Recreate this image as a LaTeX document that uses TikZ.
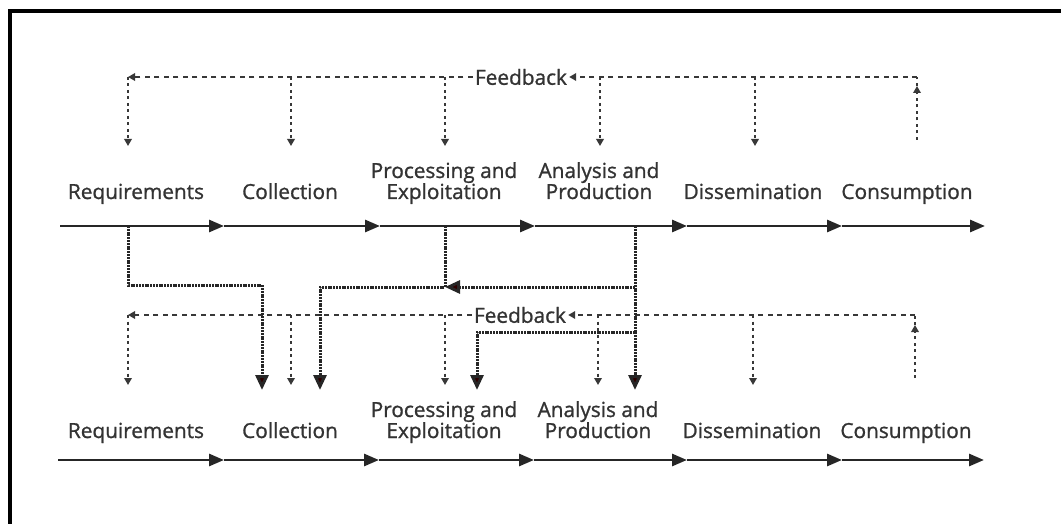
\documentclass[tikz,border=0pt]{standalone}
\usepackage{fontspec}
\setmainfont{Open Sans}
\newfontfamily\lblfont[FakeBold=1.1]{Open Sans}
\usetikzlibrary{arrows.meta}

\begin{document}
\begin{tikzpicture}[x=1pt,y=-1pt,
  lbl/.style={font=\lblfont\fontsize{20.8}{21}\selectfont, text=black!80, inner sep=0pt},
  lbl1/.style={lbl, anchor=base},
  lbl2/.style={lbl, anchor=base, align=center},
  flow/.style={line width=2.8pt, draw=black!85, -{Triangle[length=15pt,width=12pt]}},
  fb/.style={line width=2pt, draw=black!78, dash pattern=on 5pt off 4.5pt},
  fbv/.style={line width=2pt, draw=black!78, dash pattern=on 3pt off 3.5pt},
  fbtip/.style={-{Triangle[length=7pt,width=7.5pt]}},
  hand/.style={line width=3pt, draw=black!85, dash pattern=on 2pt off 0.8pt},
  handtip/.style={-{Triangle[length=15pt,width=13pt,fill=black!80!red!90!black]}}
]
\useasboundingbox (0,0) rectangle (1061,524);
\draw[line width=4pt] (10,524) -- (10,11.5) -- (1061,11.5);

% column positions
\coordinate (c1) at (128,0);
\coordinate (c2) at (291,0);
\coordinate (c3) at (445,0);
\coordinate (c4) at (600,0);
\coordinate (c5) at (755,0);
\coordinate (c6) at (917,0);
\coordinate (hA) at (262,0);
\coordinate (hB) at (320,0);
\coordinate (hC) at (477,0);
\coordinate (hD) at (635,0);

% ---------- upper cycle ----------
\node[lbl1] (req1) at (136,199) {Requirements};
\node[lbl1] (col1) at (290,199) {Collection};
\node[lbl2] (pro1) at (444,199) {Processing and\\Exploitation};
\node[lbl2] (ana1) at (599,199) {Analysis and\\Production};
\node[lbl1] (dis1) at (753,199) {Dissemination};
\node[lbl1] (con1) at (907,199) {Consumption};

\coordinate (s1) at (60,226);
\coordinate (m11) at (224,226);
\coordinate (m12) at (380,226);
\coordinate (m13) at (535,226);
\coordinate (m14) at (687,226);
\coordinate (m15) at (842,226);
\coordinate (m16) at (985,226);
\draw[flow] (s1) -- (m11);
\draw[flow] (m11) -- (m12);
\draw[flow] (m12) -- (m13);
\draw[flow] (m13) -- (m14);
\draw[flow] (m14) -- (m15);
\draw[flow] (m15) -- (m16);

\node[lbl] (fbk1) at (521,77) {Feedback};
\coordinate (fl1) at (128,77);
\coordinate (fr1) at (917,77);
\coordinate (tip1) at (0,146);
\coordinate (up1) at (0,86);
\coordinate (bot1) at (0,140);
\draw[fb,fbtip] ([xshift=-2pt]fbk1.west) -- (fl1);
\draw[fb,fbtip] (fr1) -- ([xshift=2pt]fbk1.east);
\draw[fbv,fbtip] (fl1) -- (fl1 |- tip1);
\draw[fbv,fbtip] (c2 |- fl1) -- (c2 |- tip1);
\draw[fbv,fbtip] (c3 |- fl1) -- (c3 |- tip1);
\draw[fbv,fbtip] (c4 |- fl1) -- (c4 |- tip1);
\draw[fbv,fbtip] (c5 |- fl1) -- (c5 |- tip1);
\draw[fbv,fbtip] (c6 |- bot1) -- (c6 |- up1);
\draw[fbv] (c6 |- up1) -- (fr1);

% ---------- lower cycle ----------
\node[lbl1] (req2) at (136,438) {Requirements};
\node[lbl1] (col2) at (290,438) {Collection};
\node[lbl2] (pro2) at (444,438) {Processing and\\Exploitation};
\node[lbl2] (ana2) at (598,438) {Analysis and\\Production};
\node[lbl1] (dis2) at (752,438) {Dissemination};
\node[lbl1] (con2) at (906,438) {Consumption};

\coordinate (s2) at (58,460);
\coordinate (m21) at (224,460);
\coordinate (m22) at (379,460);
\coordinate (m23) at (534,460);
\coordinate (m24) at (687,460);
\coordinate (m25) at (842,460);
\coordinate (m26) at (984,460);
\draw[flow] (s2) -- (m21);
\draw[flow] (m21) -- (m22);
\draw[flow] (m22) -- (m23);
\draw[flow] (m23) -- (m24);
\draw[flow] (m24) -- (m25);
\draw[flow] (m25) -- (m26);

\node[lbl] (fbk2) at (520,315) {Feedback};
\coordinate (fl2) at (128,315);
\coordinate (fr2) at (915,315);
\coordinate (tip2) at (0,385);
\coordinate (up2) at (0,325);
\coordinate (bot2) at (0,378);
\draw[fb,fbtip] ([xshift=-2pt]fbk2.west) -- (fl2);
\draw[fb,fbtip] (fr2) -- ([xshift=2pt]fbk2.east);
\draw[fbv,fbtip] (fl2) -- (fl2 |- tip2);
\draw[fbv,fbtip] (c2 |- fl2) -- (c2 |- tip2);
\draw[fbv,fbtip] (c3 |- fl2) -- (c3 |- tip2);
\draw[fbv,fbtip] ([xshift=-2pt]c4 |- fl2) -- ([xshift=-2pt]c4 |- tip2);
\draw[fbv,fbtip] ([xshift=-2pt]c5 |- fl2) -- ([xshift=-2pt]c5 |- tip2);
\draw[fbv,fbtip] (fr2 |- bot2) -- (fr2 |- up2);
\draw[fbv] (fr2 |- up2) -- (fr2);

% ---------- links from the upper cycle to the lower one ----------
\coordinate (hy1) at (0,285);
\coordinate (hy2) at (0,287);
\coordinate (hy3) at (0,332);
\coordinate (hend) at (0,390);
\draw[hand,handtip] (c1 |- s1) -- (c1 |- hy1) -- (hA |- hy1) -- (hA |- hend);
\draw[hand,handtip] (c3 |- s1) -- (c3 |- hy2) -- (hB |- hy2) -- (hB |- hend);
\draw[hand,handtip] (hD |- hy2) -- (c3 |- hy2);
\draw[hand,handtip] (hD |- s1) -- (hD |- hend);
\draw[hand,handtip] (hD |- hy3) -- (hC |- hy3) -- (hC |- hend);
\end{tikzpicture}
\end{document}
